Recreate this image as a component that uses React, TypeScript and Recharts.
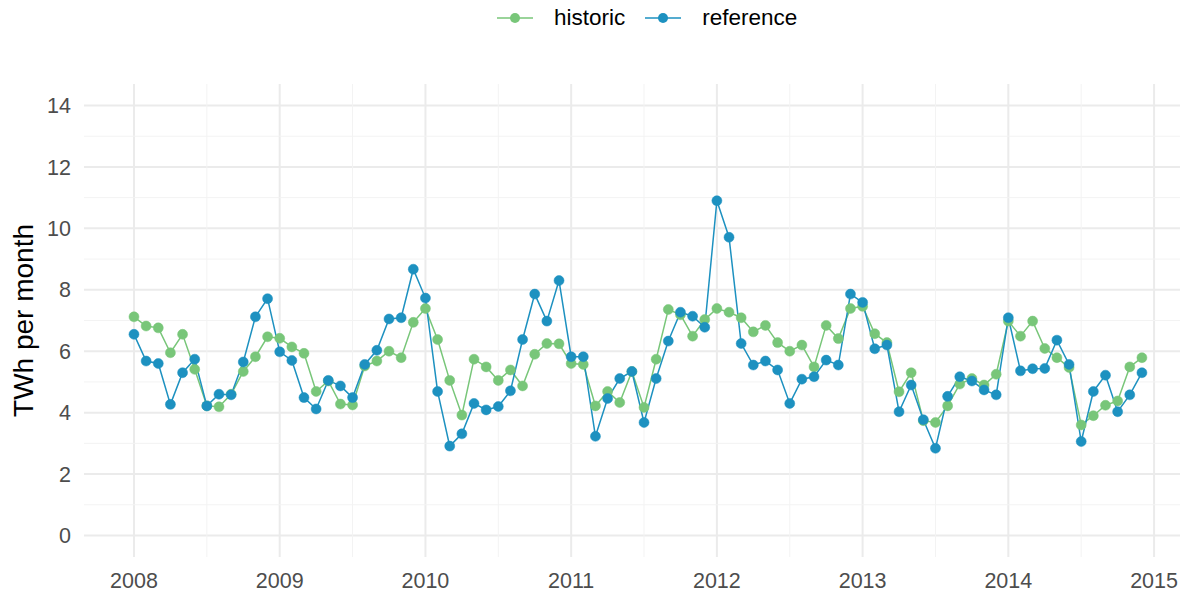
import { LineChart, Line, XAxis, YAxis, CartesianGrid, ReferenceLine, Legend } from 'recharts'

const historic = [
  7.12, 6.82, 6.76, 5.95, 6.55, 5.41, 4.22, 4.19, 4.6, 5.34, 5.82, 6.47,
  6.42, 6.14, 5.93, 4.69, 5.03, 4.28, 4.25, 5.52, 5.68, 6.0, 5.79, 6.94,
  7.39, 6.38, 5.05, 3.92, 5.74, 5.49, 5.05, 5.39, 4.87, 5.9, 6.25, 6.24,
  5.6, 5.57, 4.22, 4.69, 4.33, 5.34, 4.17, 5.74, 7.36, 7.19, 6.49, 7.03,
  7.39, 7.27, 7.09, 6.63, 6.84, 6.28, 6.0, 6.2, 5.49, 6.84, 6.41, 7.39,
  7.46, 6.57, 6.28, 4.68, 5.3, 3.74, 3.68, 4.22, 4.93, 5.11, 4.9, 5.25,
  6.98, 6.49, 6.98, 6.09, 5.79, 5.47, 3.6, 3.9, 4.24, 4.38, 5.49, 5.79,
]

const reference = [
  6.55, 5.68, 5.6, 4.27, 5.3, 5.74, 4.22, 4.6, 4.58, 5.65, 7.12, 7.71,
  5.98, 5.7, 4.49, 4.12, 5.05, 4.87, 4.49, 5.57, 6.03, 7.05, 7.09, 8.67,
  7.73, 4.69, 2.91, 3.31, 4.3, 4.09, 4.2, 4.71, 6.38, 7.86, 6.98, 8.3,
  5.82, 5.82, 3.23, 4.46, 5.11, 5.34, 3.68, 5.11, 6.33, 7.27, 7.14, 6.78,
  10.9, 9.71, 6.25, 5.55, 5.68, 5.39, 4.3, 5.09, 5.17, 5.71, 5.55, 7.86,
  7.59, 6.08, 6.2, 4.03, 4.9, 3.77, 2.84, 4.53, 5.17, 5.03, 4.74, 4.58,
  7.09, 5.36, 5.43, 5.44, 6.36, 5.57, 3.06, 4.69, 5.22, 4.03, 4.58, 5.3,
]

const startYear = 2008
const yearTicks = [2008, 2009, 2010, 2011, 2012, 2013, 2014, 2015]
const halfYears = [2008.5, 2009.5, 2010.5, 2011.5, 2012.5, 2013.5, 2014.5]
const yTicks = [0, 2, 4, 6, 8, 10, 12, 14]
const yMinor = [1, 3, 5, 7, 9, 11, 13]

const GREEN = '#78c679'
const BLUE = '#1d91c0'
const FONT = '"Liberation Sans", Arial, sans-serif'

const series = [
  { key: 'historic', color: GREEN },
  { key: 'reference', color: BLUE },
]

const data = historic.map((v, i) => ({
  t: startYear + i / 12,
  historic: v,
  reference: reference[i],
}))

const LegendContent = () => (
  <div style={{ display: 'flex', alignItems: 'center', height: 35, paddingLeft: 497, fontSize: 22.5, color: '#000', fontFamily: FONT }}>
    {series.map((s) => (
      <div key={s.key} style={{ display: 'flex', alignItems: 'center', marginRight: 20 }}>
        <svg width={36} height={12}>
          <line x1={0} y1={6} x2={36} y2={6} stroke={s.color} strokeWidth={1.5} />
          <circle cx={18} cy={6} r={5} fill={s.color} />
        </svg>
        <span style={{ marginLeft: 21 }}>{s.key}</span>
      </div>
    ))}
  </div>
)

const YTitle = (props: any) => {
  const vb = props.viewBox
  const cx = vb.x + 23
  const cy = vb.y + vb.height / 2
  return (
    <text x={cx} y={cy} transform={`rotate(-90 ${cx} ${cy})`} textAnchor="middle" dominantBaseline="central"
      fontSize={28} fill="#000" fontFamily={FONT}>
      TWh per month
    </text>
  )
}

export default function App() {
  return (
    <div style={{ position: 'absolute', left: 0, top: 0, width: 1188, height: 594, background: '#fff', fontFamily: FONT }}>
      <LineChart width={1188} height={594} data={data} margin={{ top: 49, right: 8, bottom: 0, left: 0 }}>
        <Legend verticalAlign="top" content={<LegendContent />} wrapperStyle={{ top: 0, left: 0, width: 1188, height: 35 }} />
        {halfYears.map((x) => (
          <ReferenceLine key={'vx' + x} x={x} stroke="#f3f3f3" strokeWidth={1} />
        ))}
        {yMinor.map((y) => (
          <ReferenceLine key={'hy' + y} y={y} stroke="#f3f3f3" strokeWidth={1} />
        ))}
        <CartesianGrid stroke="#ebebeb" strokeWidth={2} horizontalValues={yTicks} verticalValues={yearTicks} />
        <XAxis
          type="number"
          dataKey="t"
          domain={[2007.657, 2015.178]}
          ticks={yearTicks}
          allowDataOverflow
          axisLine={false}
          tickLine={false}
          height={37}
          tickMargin={10}
          tick={{ fill: '#4d4d4d', fontSize: 21.5, fontFamily: FONT }}
        />
        <YAxis
          type="number"
          domain={[-0.7, 14.7]}
          ticks={yTicks}
          allowDataOverflow
          axisLine={false}
          tickLine={false}
          width={84}
          tickMargin={7}
          tick={{ fill: '#4d4d4d', fontSize: 21.5, fontFamily: FONT }}
          label={<YTitle />}
        />
        {series.map((s) => (
          <Line
            key={s.key}
            type="linear"
            dataKey={s.key}
            stroke={s.color}
            strokeWidth={1.5}
            dot={{ r: 5, fill: s.color, stroke: s.color, strokeWidth: 0.5 }}
            activeDot={false}
            isAnimationActive={false}
          />
        ))}
      </LineChart>
    </div>
  )
}
